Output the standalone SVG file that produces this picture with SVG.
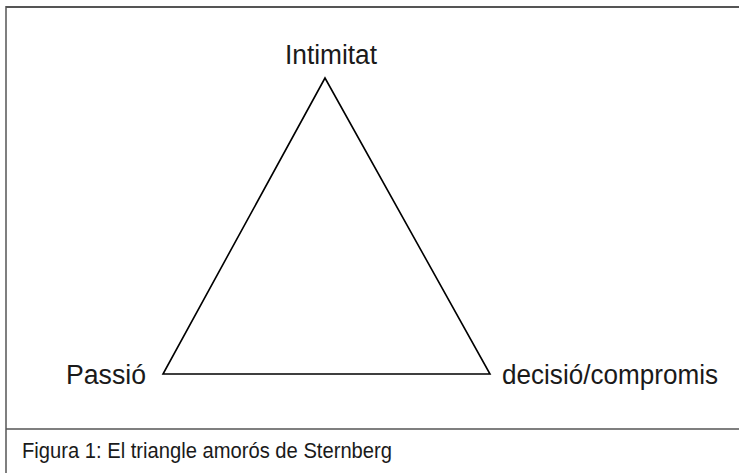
<svg xmlns="http://www.w3.org/2000/svg" width="739" height="473" viewBox="0 0 739 473">
<style>
.lbl{font-family:"Liberation Sans",Arial,sans-serif;font-size:27px;fill:#1a1a1a}
.cap{font-family:"Liberation Sans",Arial,sans-serif;font-size:22px;fill:#1a1a1a}
.frame{stroke:#555;fill:none}
</style>
<rect width="739" height="473" fill="#fff"/>
<g id="frame">
<line class="frame" x1="6" y1="7" x2="739" y2="7" stroke-width="2"/>
<line class="frame" x1="6" y1="6" x2="6" y2="473" stroke-width="1.5"/>
<line class="frame" x1="6" y1="429" x2="739" y2="429" stroke-width="1.5"/>
</g>
<g id="connectors">
<polygon points="325,78 163,374 490,374" fill="none" stroke="#000" stroke-width="1.6" stroke-linejoin="miter"/>
</g>
<g id="node-intimitat"><text class="lbl" x="285" y="64" textLength="92" lengthAdjust="spacingAndGlyphs">Intimitat</text></g>
<g id="node-passio"><text class="lbl" x="66" y="384" textLength="80" lengthAdjust="spacingAndGlyphs">Passió</text></g>
<g id="node-decisio"><text class="lbl" x="502" y="384" textLength="216" lengthAdjust="spacingAndGlyphs">decisió/compromis</text></g>
<g id="caption"><text class="cap" x="22" y="458" textLength="370" lengthAdjust="spacingAndGlyphs">Figura 1: El triangle amorós de Sternberg</text></g>
</svg>
